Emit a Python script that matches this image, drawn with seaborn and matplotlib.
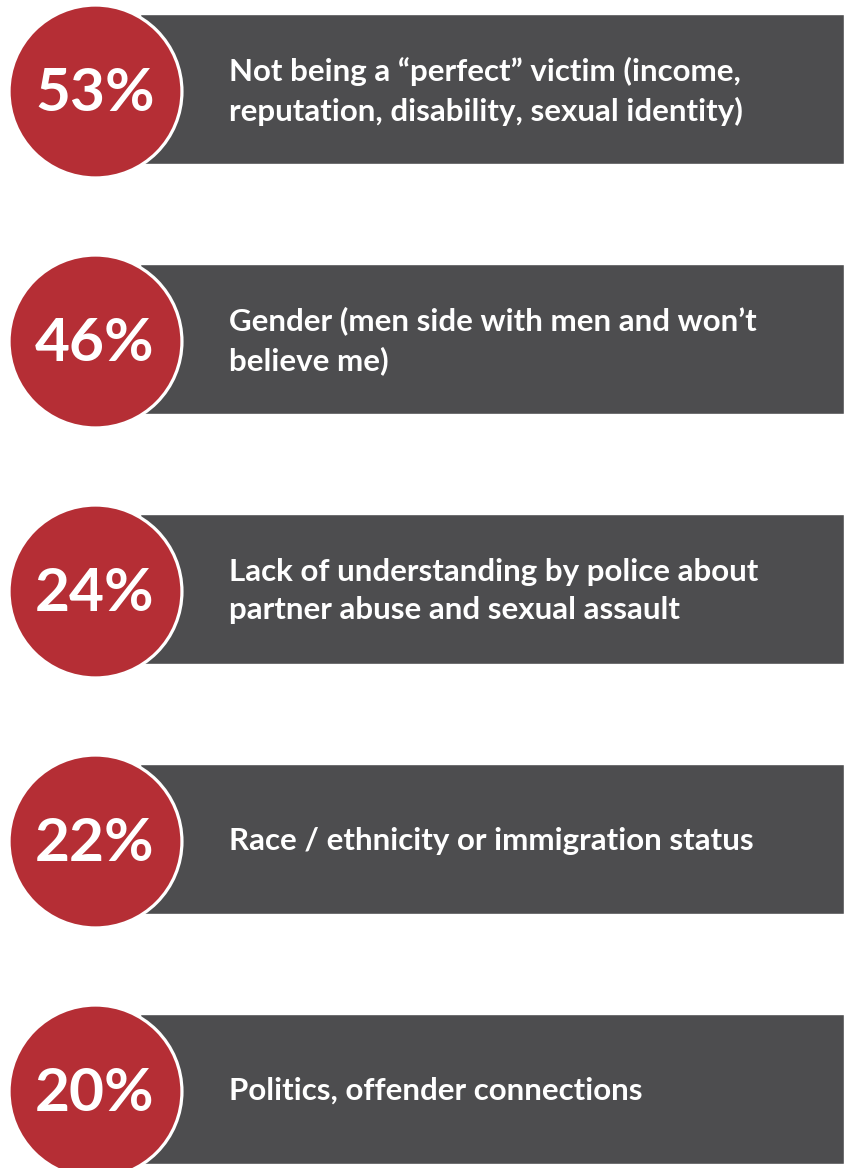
import numpy as np
import pandas as pd
import seaborn as sns
import matplotlib.pyplot as plt

# share of respondents naming each barrier
percents = [53, 46, 24, 22, 20]
labels = [
    'Not being a \u201cperfect\u201d victim (income,\nreputation, disability, sexual identity)',
    'Gender (men side with men and won\u2019t\nbelieve me)',
    'Lack of understanding by police about\npartner abuse and sexual assault',
    'Race / ethnicity or immigration status',
    'Politics, offender connections',
]

df = pd.DataFrame({'label': labels, 'pct': percents, 'band': 1.0})

red = '#B52E35'
gray = '#4D4D4F'

sns.set_style('white')
fig = plt.figure(figsize=(8.44, 11.68), dpi=100)
ax = fig.add_axes([0, 0, 1, 1])

# full-width dark bands, one per item
sns.barplot(data=df, x='band', y='label', orient='h', color=gray,
            width=0.6, saturation=1, ax=ax)

pos = np.arange(len(df))
ax.set_xlim(-140 / 704, 1)
ax.set_ylim((1168 - 89) / 250, -89 / 250)

# red discs with white ring
sns.scatterplot(x=np.full(len(df), -45 / 704), y=pos + 0.006, s=15500, color=red,
                edgecolor='white', linewidth=2.3, ax=ax, zorder=3, legend=False)

for i, row in df.iterrows():
    ax.text(-45 / 704, i + 0.02, f"{row['pct']}%", color='white',
            fontsize=43.5, fontweight='bold', family=['Lato', 'DejaVu Sans'],
            ha='center', va='center', zorder=4)
    ax.text(89 / 704, i + 0.008, row['label'], color='white', fontsize=22.5,
            fontweight='bold', family=['Lato', 'DejaVu Sans'],
            ha='left', va='center', linespacing=1.45, zorder=4)

ax.set_axis_off()
fig.savefig('out.png', dpi=100)
